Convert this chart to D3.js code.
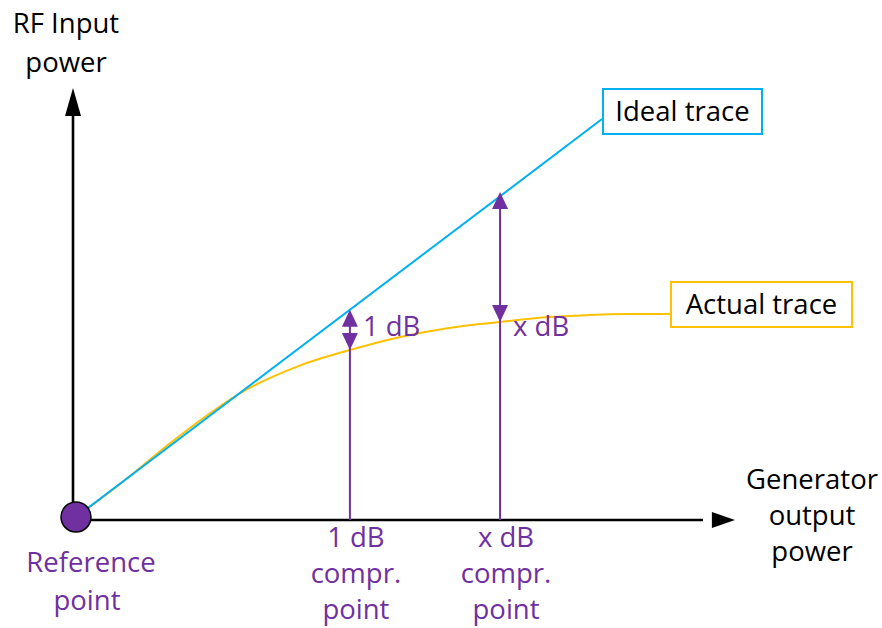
<!DOCTYPE html>
<html><head><meta charset="utf-8">
<script src="https://cdn.jsdelivr.net/npm/d3@7"></script>
<style>html,body{margin:0;padding:0;background:#fff}svg{display:block}</style>
</head><body>
<svg id="c" width="882" height="628"></svg>
<script>
// ---- data ----
const idealTrace = [[0,0],[15.94,12.06]];
const actualTrace = [[0,0],[1.3,0.97],[2.82,2.21],[4.03,3.12],[5.15,3.85],[6.76,4.58],[8.3,5.06],[9.79,5.45],[11.3,5.73],[12.85,5.91],[14.33,6.06],[15.55,6.12],[16.76,6.15],[18.0,6.15]];
const comprX = [8.3, 12.85];
const comprIdeal = [6.28, 9.85];
const comprActual = [5.06, 5.91];
const comprLabels = ["1 dB", "x dB"];
const yAxisLabel = ["RF Input", "power"];
const xAxisLabel = ["Generator", "output", "power"];
const refLabel = ["Reference", "point"];
const comprPointLabels = [["1 dB","compr.","point"],["x dB","compr.","point"]];
const traceNames = ["Ideal trace", "Actual trace"];

const PURPLE = "#7030A0", BLUE = "#00B0F0", ORANGE = "#FFC000";
const FONT = "'Open Sans', sans-serif";
const FS = 27.5;

const svg = d3.select("#c");
const x = d3.scaleLinear().domain([0, 20]).range([76, 736]);
const y = d3.scaleLinear().domain([0, 13]).range([517, 88]);

// axes
const axX = y(0) + 3, axY = x(0) - 3;
svg.append("line").attr("x1", axY).attr("x2", x(19.0)).attr("y1", axX).attr("y2", axX)
  .attr("stroke", "#000").attr("stroke-width", 2.6);
svg.append("path").attr("d", `M${x(20)-1},${axX} L${x(19.3)-1},${axX-8} L${x(19.3)-1},${axX+8} Z`).attr("fill", "#000");
svg.append("line").attr("x1", axY).attr("x2", axY).attr("y1", axX).attr("y2", y(12.2))
  .attr("stroke", "#000").attr("stroke-width", 2.6);
svg.append("path").attr("d", `M${axY},${y(13)} L${axY-8},${y(12.15)} L${axY+8},${y(12.15)} Z`).attr("fill", "#000");

// traces
const line = d3.line().x(d => x(d[0])).y(d => y(d[1]));
svg.append("path").datum(actualTrace).attr("d", line.curve(d3.curveCatmullRom.alpha(0.5)))
  .attr("fill", "none").attr("stroke", ORANGE).attr("stroke-width", 2);
svg.append("path").datum(idealTrace).attr("d", d3.line().x(d => x(d[0])).y(d => y(d[1])))
  .attr("fill", "none").attr("stroke", BLUE).attr("stroke-width", 2);

// compression arrows
function head(cx, tipY, dir, w, h) { // dir -1 up, +1 down
  return `M${cx},${tipY} L${cx-w},${tipY - dir*h} L${cx+w},${tipY - dir*h} Z`;
}
comprX.forEach((cx, i) => {
  const px = x(cx);
  svg.append("line").attr("x1", px).attr("x2", px).attr("y1", axX).attr("y2", y(comprIdeal[i]) + 8)
    .attr("stroke", PURPLE).attr("stroke-width", 2);
  svg.append("path").attr("d", head(px, y(comprIdeal[i]), -1, 8, 17)).attr("fill", PURPLE);
  svg.append("path").attr("d", head(px, y(comprActual[i]), 1, 8, 17)).attr("fill", PURPLE);
  svg.append("text").attr("x", px + 13).attr("y", 336).text(comprLabels[i])
    .attr("font-family", FONT).attr("font-size", FS).attr("fill", PURPLE);
  comprPointLabels[i].forEach((t, j) => {
    svg.append("text").attr("x", px + 6).attr("y", 547 + j * 36).attr("text-anchor", "middle").text(t)
      .attr("font-family", FONT).attr("font-size", FS).attr("fill", PURPLE);
  });
});

// reference point
svg.append("circle").attr("cx", x(0)).attr("cy", y(0)).attr("r", 15)
  .attr("fill", PURPLE).attr("stroke", "#000").attr("stroke-width", 1.5);
refLabel.forEach((t, j) => {
  svg.append("text").attr("x", 91 - j * 4).attr("y", 572 + j * 38).attr("text-anchor", "middle").text(t)
    .attr("font-family", FONT).attr("font-size", FS).attr("fill", PURPLE);
});

// axis labels
yAxisLabel.forEach((t, j) => {
  svg.append("text").attr("x", 66).attr("y", 33 + j * 39).attr("text-anchor", "middle").text(t)
    .attr("font-family", FONT).attr("font-size", FS).attr("fill", "#000");
});
xAxisLabel.forEach((t, j) => {
  svg.append("text").attr("x", 812).attr("y", 489 + j * 36).attr("text-anchor", "middle").text(t)
    .attr("font-family", FONT).attr("font-size", FS).attr("fill", "#000");
});

// trace legends (boxes)
const boxes = [
  {x0: 603, y0: 89, x1: 762, y1: 134, color: BLUE, from: idealTrace[idealTrace.length-1]},
  {x0: 671, y0: 282, x1: 852, y1: 327, color: ORANGE, from: actualTrace[actualTrace.length-1]}
];
boxes.forEach((b, i) => {
  if (i === 1) {
    svg.append("line").attr("x1", x(b.from[0])).attr("y1", y(b.from[1])).attr("x2", b.x0).attr("y2", 313)
      .attr("stroke", b.color).attr("stroke-width", 2);
  }
  svg.append("rect").attr("x", b.x0).attr("y", b.y0).attr("width", b.x1 - b.x0).attr("height", b.y1 - b.y0)
    .attr("fill", "#fff").attr("stroke", b.color).attr("stroke-width", 2);
  svg.append("text").attr("x", (b.x0 + b.x1) / 2).attr("y", (b.y0 + b.y1) / 2 + 9.5).attr("text-anchor", "middle")
    .text(traceNames[i]).attr("font-family", FONT).attr("font-size", FS).attr("fill", "#000");
});
</script>
</body></html>
